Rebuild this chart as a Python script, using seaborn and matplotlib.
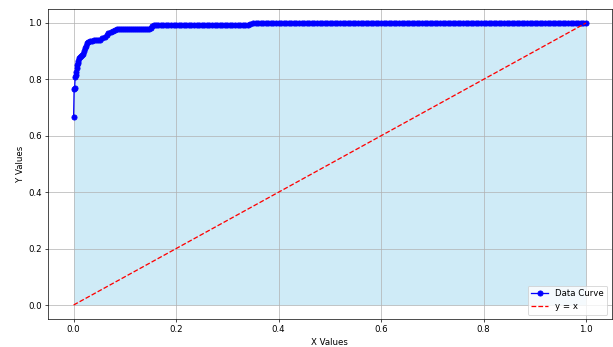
import matplotlib
matplotlib.use("Agg")
import matplotlib.pyplot as plt
import pandas as pd
import seaborn as sns

# Curve points (x, y)
x_values = [
    0.000, 0.001, 0.002, 0.003, 0.004, 0.005, 0.006, 0.007, 0.008, 0.009,
    0.011, 0.013, 0.015, 0.017, 0.018, 0.020, 0.022, 0.024, 0.026, 0.029,
    0.032, 0.036, 0.040, 0.044, 0.048, 0.052, 0.056, 0.061, 0.065, 0.068,
    0.072, 0.076, 0.080, 0.084,
    0.088, 0.092, 0.096, 0.100, 0.104, 0.108, 0.112, 0.116, 0.120, 0.124,
    0.128, 0.132, 0.136, 0.140, 0.144, 0.148, 0.151, 0.153, 0.156,
    0.160, 0.165, 0.170, 0.175, 0.180, 0.185, 0.190, 0.195, 0.200, 0.205,
    0.210, 0.215, 0.220, 0.225, 0.230, 0.235, 0.240, 0.245, 0.250, 0.255,
    0.260, 0.265, 0.270, 0.275, 0.280, 0.285, 0.290, 0.295, 0.300, 0.305,
    0.310, 0.315, 0.320, 0.325, 0.330, 0.335, 0.340, 0.345, 0.350,
    0.355, 0.360, 0.365, 0.370, 0.375, 0.380, 0.385, 0.390, 0.395, 0.400,
    0.405, 0.410, 0.415, 0.420, 0.425, 0.430, 0.435, 0.440, 0.445, 0.450,
    0.455, 0.460, 0.465, 0.470, 0.475, 0.480, 0.485, 0.490, 0.495, 0.500,
    0.505, 0.510, 0.515, 0.520, 0.525, 0.530, 0.535, 0.540, 0.545, 0.550,
    0.555, 0.560, 0.565, 0.570, 0.575, 0.580, 0.585, 0.590, 0.595, 0.600,
    0.605, 0.610, 0.615, 0.620, 0.625, 0.630, 0.635, 0.640, 0.645, 0.650,
    0.655, 0.660, 0.665, 0.670, 0.675, 0.680, 0.685, 0.690, 0.695, 0.700,
    0.705, 0.710, 0.715, 0.720, 0.725, 0.730, 0.735, 0.740, 0.745, 0.750,
    0.755, 0.760, 0.765, 0.770, 0.775, 0.780, 0.785, 0.790, 0.795, 0.800,
    0.805, 0.810, 0.815, 0.820, 0.825, 0.830, 0.835, 0.840, 0.845, 0.850,
    0.855, 0.860, 0.865, 0.870, 0.875, 0.880, 0.885, 0.890, 0.895, 0.900,
    0.905, 0.910, 0.915, 0.920, 0.925, 0.930, 0.935, 0.940, 0.945, 0.950,
    0.955, 0.960, 0.965, 0.970, 0.975, 0.980, 0.985, 0.990, 0.995, 1.000,
]
y_values = [
    0.668, 0.765, 0.770, 0.807, 0.815, 0.827, 0.840, 0.851, 0.858, 0.866,
    0.875, 0.880, 0.884, 0.887, 0.889, 0.900, 0.911, 0.920, 0.928, 0.932,
    0.935, 0.937, 0.938, 0.939, 0.940, 0.941, 0.945, 0.951, 0.957, 0.963,
    0.967, 0.972, 0.976, 0.978,
    0.978, 0.978, 0.978, 0.978, 0.978, 0.978, 0.978, 0.978, 0.978, 0.978,
    0.978, 0.978, 0.978, 0.978, 0.978, 0.979, 0.983, 0.988, 0.992,
    0.993, 0.993, 0.993, 0.993, 0.993, 0.993, 0.993, 0.993, 0.993, 0.993,
    0.993, 0.993, 0.993, 0.993, 0.993, 0.993, 0.993, 0.993, 0.993, 0.993,
    0.993, 0.993, 0.993, 0.993, 0.993, 0.993, 0.993, 0.993, 0.993, 0.993,
    0.993, 0.993, 0.993, 0.993, 0.993, 0.993, 0.994, 0.996, 0.999,
    1.000, 1.000, 1.000, 1.000, 1.000, 1.000, 1.000, 1.000, 1.000, 1.000,
    1.000, 1.000, 1.000, 1.000, 1.000, 1.000, 1.000, 1.000, 1.000, 1.000,
    1.000, 1.000, 1.000, 1.000, 1.000, 1.000, 1.000, 1.000, 1.000, 1.000,
    1.000, 1.000, 1.000, 1.000, 1.000, 1.000, 1.000, 1.000, 1.000, 1.000,
    1.000, 1.000, 1.000, 1.000, 1.000, 1.000, 1.000, 1.000, 1.000, 1.000,
    1.000, 1.000, 1.000, 1.000, 1.000, 1.000, 1.000, 1.000, 1.000, 1.000,
    1.000, 1.000, 1.000, 1.000, 1.000, 1.000, 1.000, 1.000, 1.000, 1.000,
    1.000, 1.000, 1.000, 1.000, 1.000, 1.000, 1.000, 1.000, 1.000, 1.000,
    1.000, 1.000, 1.000, 1.000, 1.000, 1.000, 1.000, 1.000, 1.000, 1.000,
    1.000, 1.000, 1.000, 1.000, 1.000, 1.000, 1.000, 1.000, 1.000, 1.000,
    1.000, 1.000, 1.000, 1.000, 1.000, 1.000, 1.000, 1.000, 1.000, 1.000,
    1.000, 1.000, 1.000, 1.000, 1.000, 1.000, 1.000, 1.000, 1.000, 1.000,
    1.000, 1.000, 1.000, 1.000, 1.000, 1.000, 1.000, 1.000, 1.000, 1.000,
]
diag = [0.0, 1.0]

df = pd.DataFrame({"x": x_values, "y": y_values})

DPI = 62
fig = plt.figure(figsize=(613 / DPI, 347 / DPI), dpi=DPI)
ax = fig.add_axes([0.0783, 0.0804, 0.9194, 0.894])

ax.fill_between(df["x"], df["y"], color="skyblue", alpha=0.4, linewidth=0)
sns.lineplot(data=df, x="x", y="y", ax=ax, sort=False, color="blue",
             marker="o", markersize=6, markeredgecolor="blue",
             markeredgewidth=1, linewidth=1.5, label="Data Curve")
ax.plot(diag, diag, "r--", linewidth=1.5, label="y = x")

ax.set_xlabel("X Values")
ax.set_ylabel("Y Values")
ax.grid(True)
ax.margins(0.05)
ax.legend(loc="lower right")

fig.savefig("out.png", dpi=DPI)
